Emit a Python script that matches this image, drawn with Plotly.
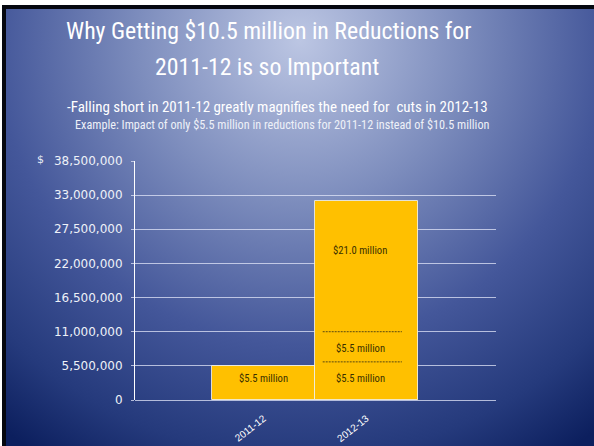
import base64
import plotly.graph_objects as go

# ---------------- data ----------------
categories = ["2011-12", "2012-13"]
reduction_planned = [5.5, 5.5]     # $ millions
shortfall_carry = [0.0, 5.5]       # $ millions
additional_need = [0.0, 21.0]      # $ millions
y_ticks = [0, 5.5, 11.0, 16.5, 22.0, 27.5, 33.0, 38.5]  # $ millions

title_line1 = "Why Getting $10.5 million in Reductions for"
title_line2 = "2011-12 is so Important"
subtitle = "-Falling short in 2011-12 greatly magnifies the need for  cuts in 2012-13"
example = "Example: Impact of only $5.5 million in reductions for 2011-12 instead of $10.5 million"

M = 1_000_000
W, H = 594, 446
L, R, T, B = 135, 98, 161, 46
PW, PH = W - L - R, H - T - B

NARROW = "Liberation Sans Narrow, Arial Narrow, Roboto Condensed, sans-serif"
BAR = "#FFC000"
LABEL = "#3a3000"

# ---------------- background (gradient slide) ----------------
EXT = 20  # draw the background a little beyond the page so no edge shows
BW, BH = W + EXT, H + EXT
svg = f"""<svg xmlns='http://www.w3.org/2000/svg' width='{BW}' height='{BH}' viewBox='0 0 {BW} {BH}' preserveAspectRatio='none'>
<defs><radialGradient id='g' gradientUnits='userSpaceOnUse' cx='300' cy='40' r='490'>
<stop offset='0' stop-color='#bcc6e3'/>
<stop offset='0.33' stop-color='#7d8dbd'/>
<stop offset='0.62' stop-color='#44579a'/>
<stop offset='0.85' stop-color='#253a7c'/>
<stop offset='1' stop-color='#0c1f5e'/>
</radialGradient></defs>
<rect x='0' y='0' width='{BW}' height='{BH}' fill='#ffffff'/>
<rect x='2' y='5' width='{BW - 2}' height='{BH - 5}' fill='#05070f'/>
<rect x='6' y='9' width='{BW - 6}' height='{BH - 9}' fill='url(#g)'/>
</svg>"""
bg_uri = "data:image/svg+xml;base64," + base64.b64encode(svg.encode()).decode()


def px_x(px):
    return (px - L) / PW


def px_y(py):
    return (H - B - py) / PH


fig = go.Figure()

bases = [0.0, 0.0]
segments = [reduction_planned, shortfall_carry, additional_need]
seg_bases = []
for seg in segments:
    seg_bases.append(list(bases))
    fig.add_trace(go.Bar(
        x=[0, 1], y=[v * M for v in seg], base=[b * M for b in bases],
        width=1, marker=dict(color=BAR, line=dict(width=0)),
        hoverinfo="skip", showlegend=False,
    ))
    bases = [b + v for b, v in zip(bases, seg)]

totals = bases
# outline of whole bars
fig.add_trace(go.Bar(
    x=[0, 1], y=[t * M for t in totals], base=[0, 0], width=1,
    marker=dict(color="rgba(0,0,0,0)", line=dict(color="rgba(240,236,220,0.9)", width=1)),
    hoverinfo="skip", showlegend=False,
))

annotations = []
shapes = []
# segment labels
for si, seg in enumerate(segments):
    for ci, v in enumerate(seg):
        if v <= 0:
            continue
        mid = (seg_bases[si][ci] + v / 2) * M
        yshift = 16 if si == 2 else (4 if si == 0 else 0)
        xshift = -6 if ci == 1 else 0
        annotations.append(dict(
            x=ci, y=mid, xref="x", yref="y", text=f"${v:.1f} million",
            showarrow=False, yshift=yshift, xshift=xshift,
            font=dict(family=NARROW, size=10.6, color=LABEL),
        ))

# dashed separators inside 2012-13 bar
ci = 1
for si, off in [(1, 4), (2, 0)]:
    if segments[si][ci] > 0:
        shapes.append(dict(
            type="line", xref="x", yref="y",
            x0=ci - 0.5 + 0.075, x1=ci + 0.5 - 0.155,
            ysizemode="pixel", yanchor=seg_bases[si][ci] * M, y0=off, y1=off,
            line=dict(color="#5a4a10", width=1, dash="2px,1px"),
        ))

# titles
annotations += [
    dict(x=px_x(268), y=px_y(31), xref="paper", yref="paper", text=title_line1,
         showarrow=False, xanchor="center", yanchor="middle",
         font=dict(family=NARROW, size=23.8, color="white")),
    dict(x=px_x(267), y=px_y(67), xref="paper", yref="paper", text=title_line2,
         showarrow=False, xanchor="center", yanchor="middle",
         font=dict(family=NARROW, size=23.8, color="white")),
    dict(x=px_x(277), y=px_y(107), xref="paper", yref="paper", text=subtitle,
         showarrow=False, xanchor="center", yanchor="middle",
         font=dict(family=NARROW, size=15, color="white")),
    dict(x=px_x(282), y=px_y(125), xref="paper", yref="paper", text=example,
         showarrow=False, xanchor="center", yanchor="middle",
         font=dict(family=NARROW, size=12.2, color="#eef1f8")),
    dict(x=px_x(40), y=px_y(159), xref="paper", yref="paper", text="$",
         showarrow=False, xanchor="center", yanchor="middle",
         font=dict(family="DejaVu Sans", size=11, color="#e8ecf5")),
]

grid = "rgba(225,230,248,0.75)"
fig.update_layout(
    width=W, height=H, autosize=False,
    margin=dict(l=L, r=R, t=T, b=B, pad=0, autoexpand=False),
    paper_bgcolor="#0c1f5e", plot_bgcolor="rgba(0,0,0,0)",
    barmode="overlay", bargap=0,
    images=[dict(source=bg_uri, xref="paper", yref="paper",
                 x=px_x(0), y=px_y(0), sizex=BW / PW, sizey=BH / PH,
                 xanchor="left", yanchor="top", sizing="stretch", layer="below")],
    annotations=annotations,
    shapes=shapes,
    xaxis=dict(
        range=[-1.25, 2.26], tickmode="array", tickvals=[0, 1], ticktext=categories,
        tickangle=-38, showgrid=False, zeroline=False, showline=False,
        ticks="", tickfont=dict(family="Liberation Sans, Arial, sans-serif", size=10, color="white"),
        ticklabelstandoff=10, fixedrange=True, automargin=False,
    ),
    yaxis=dict(
        range=[0, y_ticks[-1] * M], tickmode="array",
        tickvals=[t * M for t in y_ticks],
        ticktext=[f"{int(round(t * M)):,}" for t in y_ticks],
        showgrid=True, gridcolor=grid, gridwidth=1,
        zeroline=True, zerolinecolor=grid, zerolinewidth=1,
        showline=True, linecolor="white", linewidth=1,
        ticks="outside", ticklen=3, tickcolor=grid,
        tickfont=dict(family="DejaVu Sans, Verdana, sans-serif", size=12, color="#eef1f8"),
        ticklabelstandoff=6, fixedrange=True, automargin=False,
    ),
)

fig.write_html(
    "out.html",
    config={"displayModeBar": False, "responsive": False},
    post_script="document.body.style.margin='0';document.body.style.overflow='hidden';",
)
